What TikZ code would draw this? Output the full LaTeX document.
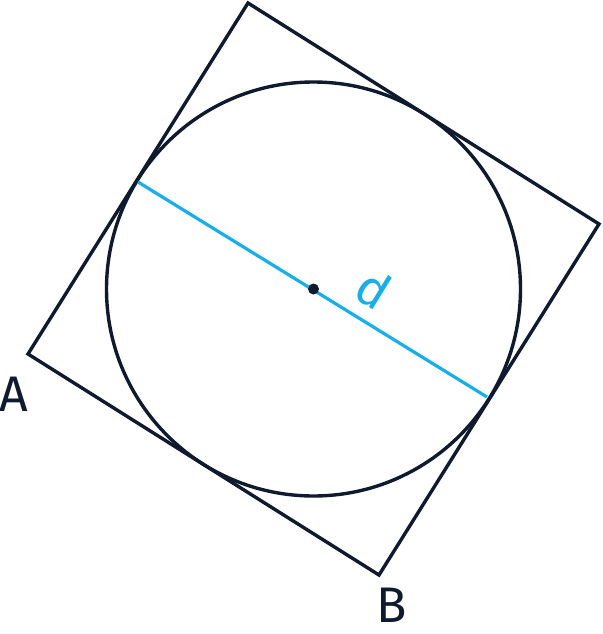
\documentclass[tikz,border=0pt]{standalone}
\usepackage{fontspec}
\setmainfont{Fira Sans}
\definecolor{ink}{HTML}{0F1A2E}
\definecolor{sky}{HTML}{18AEEA}
\begin{document}
\begin{tikzpicture}[x=1pt,y=-1pt,
  outline/.style={draw=ink,line width=3.4pt,line join=miter},
  diam/.style={draw=sky,line width=3.2pt},
  lbl/.style={text=ink,font=\fontsize{50}{50}\selectfont,inner sep=0pt,anchor=base}]
\useasboundingbox (0,0) rectangle (602,634);
\coordinate (T) at (248,3);
\coordinate (R) at (599,224);
\coordinate (Bc) at (379,575);
\coordinate (L) at (28,354);
\coordinate (O) at (313.5,289);
\coordinate (P1) at (138,182);
\coordinate (P2) at (487,397);
\draw[outline] (T) -- (R) -- (Bc) -- (L) -- cycle;
\draw[outline] (O) circle[radius=207];
\draw[diam] (P1) -- (P2);
\fill[ink] (O) circle[radius=5.5];
\node[text=sky,font=\fontsize{50}{50}\selectfont,inner sep=0pt,rotate=-31.6] (d) at (374,289) {d};
\node[lbl] (A) at (14,411) {A};
\node[lbl] (B) at (392,622) {B};
\end{tikzpicture}
\end{document}
